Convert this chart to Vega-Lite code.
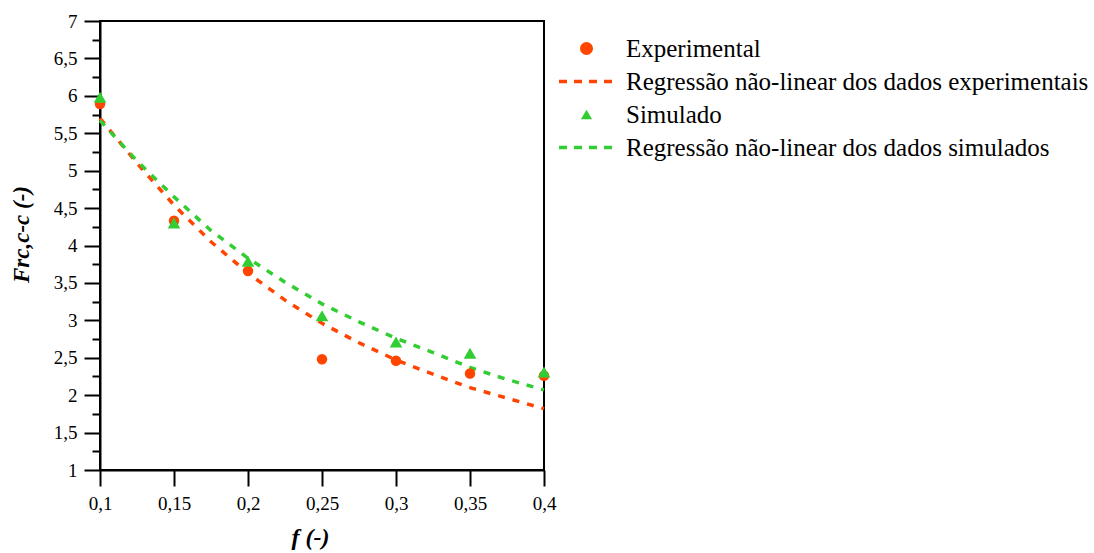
{
  "$schema": "https://vega.github.io/schema/vega-lite/v6.json",
  "autosize": "none",
  "padding": {"left": 100, "top": 21, "right": 550, "bottom": 83},
  "width": 444,
  "height": 449,
  "background": "white",
  "config": {
    "view": {"stroke": "black", "strokeWidth": 2},
    "font": "Times New Roman, Liberation Serif, DejaVu Serif, serif"
  },
  "datasets": {
    "pts": [
      {"series": "Experimental", "f": 0.1, "v": 5.89},
      {"series": "Experimental", "f": 0.15, "v": 4.33},
      {"series": "Experimental", "f": 0.2, "v": 3.66},
      {"series": "Experimental", "f": 0.25, "v": 2.48},
      {"series": "Experimental", "f": 0.3, "v": 2.46},
      {"series": "Experimental", "f": 0.35, "v": 2.29},
      {"series": "Experimental", "f": 0.4, "v": 2.26},
      {"series": "Simulado", "f": 0.1, "v": 5.98},
      {"series": "Simulado", "f": 0.15, "v": 4.30},
      {"series": "Simulado", "f": 0.2, "v": 3.79},
      {"series": "Simulado", "f": 0.25, "v": 3.06},
      {"series": "Simulado", "f": 0.3, "v": 2.71},
      {"series": "Simulado", "f": 0.35, "v": 2.56},
      {"series": "Simulado", "f": 0.4, "v": 2.31}
    ],
    "curves": [
      {"series": "Regressão não-linear dos dados experimentais", "f": 0.1, "v": 5.70},
      {"series": "Regressão não-linear dos dados experimentais", "f": 0.125, "v": 5.10},
      {"series": "Regressão não-linear dos dados experimentais", "f": 0.15, "v": 4.54},
      {"series": "Regressão não-linear dos dados experimentais", "f": 0.175, "v": 4.05},
      {"series": "Regressão não-linear dos dados experimentais", "f": 0.2, "v": 3.63},
      {"series": "Regressão não-linear dos dados experimentais", "f": 0.225, "v": 3.27},
      {"series": "Regressão não-linear dos dados experimentais", "f": 0.25, "v": 2.96},
      {"series": "Regressão não-linear dos dados experimentais", "f": 0.275, "v": 2.70},
      {"series": "Regressão não-linear dos dados experimentais", "f": 0.3, "v": 2.47},
      {"series": "Regressão não-linear dos dados experimentais", "f": 0.325, "v": 2.28},
      {"series": "Regressão não-linear dos dados experimentais", "f": 0.35, "v": 2.10},
      {"series": "Regressão não-linear dos dados experimentais", "f": 0.375, "v": 1.96},
      {"series": "Regressão não-linear dos dados experimentais", "f": 0.4, "v": 1.82},
      {"series": "Regressão não-linear dos dados simulados", "f": 0.1, "v": 5.67},
      {"series": "Regressão não-linear dos dados simulados", "f": 0.125, "v": 5.13},
      {"series": "Regressão não-linear dos dados simulados", "f": 0.15, "v": 4.65},
      {"series": "Regressão não-linear dos dados simulados", "f": 0.175, "v": 4.20},
      {"series": "Regressão não-linear dos dados simulados", "f": 0.2, "v": 3.83},
      {"series": "Regressão não-linear dos dados simulados", "f": 0.225, "v": 3.51},
      {"series": "Regressão não-linear dos dados simulados", "f": 0.25, "v": 3.22},
      {"series": "Regressão não-linear dos dados simulados", "f": 0.275, "v": 2.98},
      {"series": "Regressão não-linear dos dados simulados", "f": 0.3, "v": 2.76},
      {"series": "Regressão não-linear dos dados simulados", "f": 0.325, "v": 2.57},
      {"series": "Regressão não-linear dos dados simulados", "f": 0.35, "v": 2.37},
      {"series": "Regressão não-linear dos dados simulados", "f": 0.375, "v": 2.21},
      {"series": "Regressão não-linear dos dados simulados", "f": 0.4, "v": 2.07}
    ]
  },
  "encoding": {
    "x": {
      "field": "f", "type": "quantitative",
      "scale": {"domain": [0.1, 0.4], "nice": false, "zero": false},
      "axis": {
        "values": [0.1, 0.15, 0.2, 0.25, 0.3, 0.35, 0.4],
        "labelExpr": "replace(format(datum.value, '~g'), '.', ',')",
        "grid": false,
        "domainColor": "black", "domainWidth": 2,
        "tickColor": "black", "tickWidth": 2, "tickSize": 16,
        "labelFontSize": 19, "labelColor": "black",
        "labelPadding": 8,
        "labelFlush": false,
        "title": "f (-)",
        "titleFontSize": 24, "titleFontWeight": "bold",
        "titleFontStyle": "italic", "titleColor": "black", "titlePadding": 12,
        "titleX": 210
      }
    },
    "y": {
      "field": "v", "type": "quantitative",
      "scale": {"domain": [1, 7], "nice": false, "zero": false},
      "axis": {
        "values": [1, 1.25, 1.5, 1.75, 2, 2.25, 2.5, 2.75, 3, 3.25, 3.5, 3.75, 4, 4.25, 4.5, 4.75, 5, 5.25, 5.5, 5.75, 6, 6.25, 6.5, 6.75, 7],
        "labelExpr": "(datum.value * 2) % 1 == 0 ? replace(format(datum.value, '~g'), '.', ',') : ''",
        "grid": false,
        "domainColor": "black", "domainWidth": 2,
        "tickColor": "black", "tickWidth": 2,
        "tickSize": {"condition": {"test": "(datum.value * 2) % 1 == 0", "value": 16}, "value": 8},
        "labelFontSize": 19, "labelColor": "black",
        "labelPadding": 7,
        "labelFlush": false,
        "labelOverlap": false,
        "title": "Frc,c-c (-)",
        "titleFontSize": 23, "titleFontWeight": "bold",
        "titleFontStyle": "italic", "titleColor": "black", "titlePadding": 20,
        "titleY": 213
      }
    }
  },
  "layer": [
    {
      "data": {"name": "curves"},
      "mark": {"type": "line", "strokeDash": [7, 8], "strokeWidth": 3.5},
      "encoding": {
        "color": {
          "field": "series", "type": "nominal",
          "scale": {
            "domain": ["Experimental", "Regressão não-linear dos dados experimentais", "Simulado", "Regressão não-linear dos dados simulados"],
            "range": ["#FF4500", "#FF4500", "#32CD32", "#32CD32"]
          },
          "legend": {
            "title": null,
            "orient": "none",
            "legendX": 457,
            "legendY": 11,
            "symbolSize": 3025,
            "symbolType": "stroke",
            "symbolStrokeWidth": 3.5,
            "symbolDash": [8, 7],
            "labelFontSize": 25,
            "labelColor": "black",
            "labelOffset": 10,
            "labelLimit": 700,
            "clipHeight": 33,
            "rowPadding": 0,
            "encode": {
              "symbols": {
                "update": {
                  "shape": {"signal": "datum.index == 0 ? 'circle' : (datum.index == 2 ? 'triangle-up' : 'stroke')"},
                  "size": {"signal": "datum.index == 0 ? 170 : (datum.index == 2 ? 125 : 3025)"},
                  "fill": {"signal": "datum.index == 0 ? '#FF4500' : (datum.index == 2 ? '#32CD32' : 'transparent')"},
                  "stroke": {"signal": "datum.index == 1 ? '#FF4500' : (datum.index == 3 ? '#32CD32' : 'transparent')"},
                  "strokeOpacity": {"signal": "datum.index % 2 == 0 ? 0 : 1"},
                  "strokeDash": {"signal": "datum.index % 2 == 0 ? [1, 0] : [8, 7]"}
                }
              }
            }
          }
        }
      }
    },
    {
      "data": {"name": "pts"},
      "transform": [{"filter": "datum.series == 'Experimental'"}],
      "mark": {"type": "point", "filled": true, "opacity": 1, "size": 110, "shape": "circle"},
      "encoding": {
        "color": {"field": "series", "type": "nominal"}
      }
    },
    {
      "data": {"name": "pts"},
      "transform": [{"filter": "datum.series == 'Simulado'"}],
      "mark": {"type": "point", "filled": true, "opacity": 1, "size": 160, "shape": "triangle-up"},
      "encoding": {
        "color": {"field": "series", "type": "nominal"}
      }
    }
  ]
}
